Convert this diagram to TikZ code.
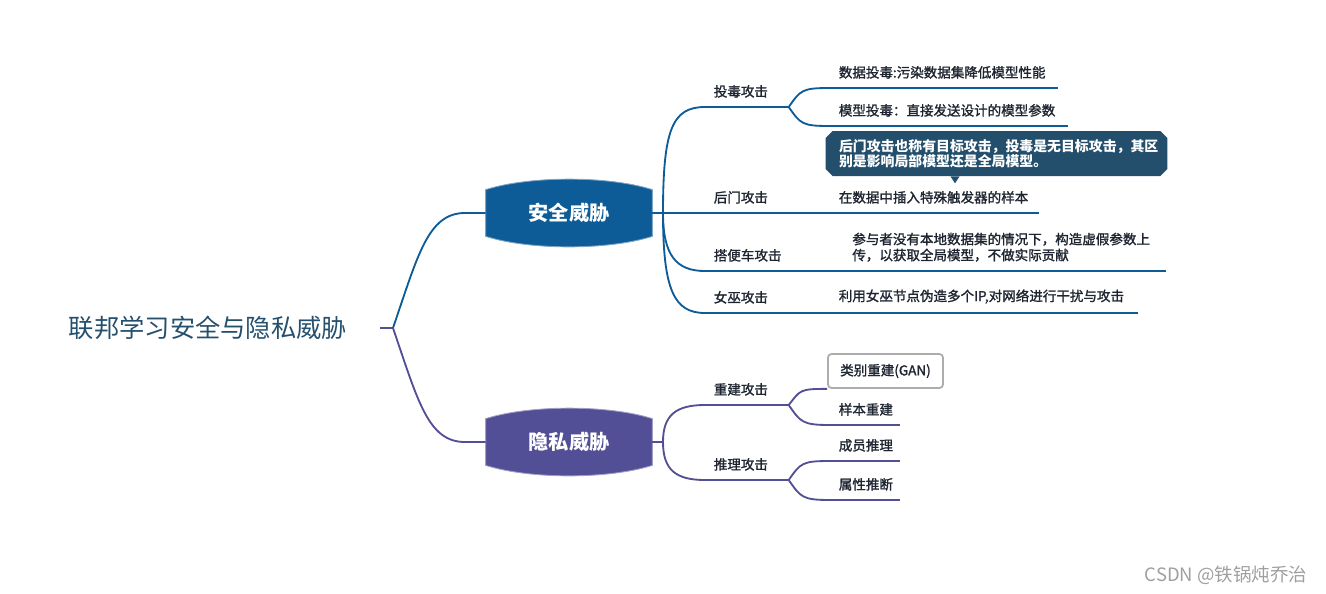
\documentclass[tikz,border=0pt]{standalone}
\usepackage{fontspec}
\setmainfont{Noto Sans CJK SC}
\newfontfamily\medfont{Noto Sans CJK SC}[FakeBold=1.5]
\usepackage{tikz}
\usetikzlibrary{shapes,positioning,backgrounds}
\definecolor{secblue}{HTML}{0E5C97}
\definecolor{privpurple}{HTML}{534F96}
\definecolor{notebg}{HTML}{234F6D}
\definecolor{titlecol}{HTML}{24506E}
\definecolor{leafcol}{HTML}{1E2530}

\begin{document}
\begin{tikzpicture}[
          x=0.02cm, y=-0.02cm,
          every node/.style={inner sep=0pt},
          bigbox/.style={minimum width=3.32cm, minimum height=0.92cm, text=white,
            font=\fontsize{11.5}{13}\selectfont\bfseries},
          sub/.style={anchor=south west, align=left, inner xsep=0.17cm, inner ysep=0.18cm,
            text=leafcol, font=\fontsize{7.7}{9.1}\selectfont\medfont},
          note/.style={chamfered rectangle, chamfered rectangle xsep=2pt, chamfered rectangle ysep=2pt,
            fill=notebg, text=white, align=left, text width=6.3cm, inner xsep=0.2cm,
            minimum height=0.9cm, font=\fontsize{7.9}{8.6}\selectfont\bfseries},
          secline/.style={draw=secblue, line width=1.05pt},
          privline/.style={draw=privpurple, line width=1.05pt}
        ]
        \useasboundingbox (0,0) rectangle (1326,593);

        % Root and the two main branches
        \node[text=titlecol, font=\fontsize{14.4}{16}\selectfont] (root) at (208,328) {联邦学习安全与隐私威胁};
        \node[bigbox] (sec) at (569,213) {安全威胁};
        \node[bigbox] (priv) at (569,442) {隐私威胁};
        \begin{scope}[on background layer]
          \foreach \b/\c in {sec/secblue, priv/privpurple}
            \filldraw[fill=\c, draw=\c!55!white, line width=0.5pt]
              (\b.north west) .. controls +(44,-14) and +(-44,-14) .. (\b.north east)
              -- (\b.south east) .. controls +(-44,14) and +(44,14) .. (\b.south west) -- cycle;
        \end{scope}

        % Security threats (second level)
        \node[sub, text width=1.32cm] (poi) at (705,107) {投毒攻击};
        \node[sub, text width=2.16cm] (bd) at (705,213) {后门攻击};
        \node[sub, text width=2.46cm] (fr) at (705,271) {搭便车攻击};
        \node[sub, text width=2.16cm] (syb) at (705,313) {女巫攻击};

        % Security threats (leaves)
        \node[sub, text width=4.2cm] (poi1) at (830,88) {数据投毒:污染数据集降低模型性能};
        \node[sub, text width=4.4cm] (poi2) at (830,126) {模型投毒：直接发送设计的模型参数};
        \node[sub, text width=3.82cm] (bd1) at (830,213) {在数据中插入特殊触发器的样本};
        \node[sub, text width=6.12cm, inner xsep=0.14cm] (fr1) at (845,271)
          {参与者没有本地数据集的情况下，构造虚假参数上\\传，以获取全局模型，不做实际贡献};
        \node[sub, text width=5.8cm] (syb1) at (830,313) {利用女巫节点伪造多个IP,对网络进行干扰与攻击};
        \node[note] (nt) at (996.5,153.5)
          {后门攻击也称有目标攻击，投毒是无目标攻击，其区\\别是影响局部模型还是全局模型。};
        \fill[notebg] (nt.south) ++(-46,0) -- ++(9,0) -- ++(-4.5,7) -- cycle;

        % Privacy threats
        \node[sub, text width=1.32cm] (rec) at (705,405) {重建攻击};
        \node[sub, text width=1.32cm] (inf) at (705,480) {推理攻击};
        \node[draw=gray!65, line width=1pt, rounded corners=2pt, fill=white, minimum width=2.3cm,
          minimum height=0.68cm, text=leafcol, font=\fontsize{7.7}{9.1}\selectfont\medfont]
          (rec1) at (885.5,371) {类别重建(GAN)};
        \node[sub, text width=1.04cm] (rec2) at (830,425) {样本重建};
        \node[sub, text width=1.04cm] (inf1) at (830,461) {成员推理};
        \node[sub, text width=1.04cm] (inf2) at (830,500) {属性推断};

        \node[text=gray!75, font=\fontsize{10.5}{12}\selectfont] (mark) at (1226,575) {CSDN @铁锅炖乔治};

        % Connectors
        \coordinate (tick) at (380,328);
        \coordinate (hub) at (393,328);
        \coordinate (hs) at (663,213);
        \coordinate (hp) at (663,442);
        \draw[privline] (tick) -- (hub);
        \draw[secline] (hub) .. controls (418,255) and (428,213) .. (465,213) -- (sec.west);
        \draw[privline] (hub) .. controls (418,401) and (428,442) .. (465,442) -- (priv.west);

        \draw[secline] (sec.east) -- (hs);
        \draw[secline] (hs) .. controls (663,130) and (672,107) .. (poi.south west);
        \draw[secline] (hs) -- (bd.south west);
        \draw[secline] (hs) .. controls (663,255) and (676,271) .. (fr.south west);
        \draw[secline] (hs) .. controls (663,290) and (674,313) .. (syb.south west);
        \draw[secline] (poi.south east) .. controls +(12,-17) and +(-28,0) .. (poi1.south west);
        \draw[secline] (poi.south east) .. controls +(12,17) and +(-28,0) .. (poi2.south west);
        \foreach \n in {poi,bd,fr,syb,poi1,poi2,bd1,fr1,syb1}
          \draw[secline] (\n.south west) -- (\n.south east);

        \draw[privline] (priv.east) -- (hp);
        \draw[privline] (hp) .. controls (663,415) and (676,405) .. (rec.south west);
        \draw[privline] (hp) .. controls (663,470) and (676,480) .. (inf.south west);
        \draw[privline] (rec.south east) .. controls +(12,-15) and +(-28,0) .. (rec1.south west);
        \draw[privline] (rec.south east) .. controls +(12,17) and +(-28,0) .. (rec2.south west);
        \draw[privline] (inf.south east) .. controls +(12,-17) and +(-28,0) .. (inf1.south west);
        \draw[privline] (inf.south east) .. controls +(12,17) and +(-28,0) .. (inf2.south west);
        \foreach \n in {rec,inf,rec2,inf1,inf2}
          \draw[privline] (\n.south west) -- (\n.south east);

      \end{tikzpicture}
\end{document}
